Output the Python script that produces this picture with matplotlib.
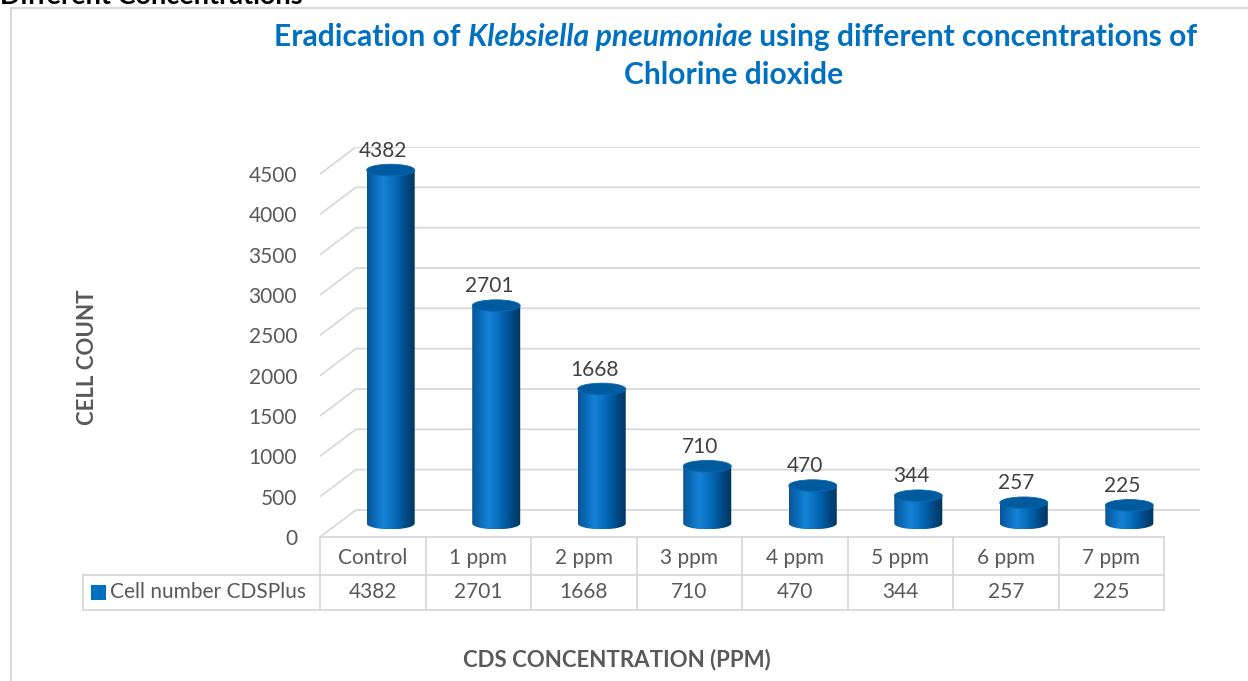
import numpy as np
import matplotlib
matplotlib.use("Agg")
import matplotlib.pyplot as plt
from matplotlib.patches import Ellipse, PathPatch, Rectangle
from matplotlib.path import Path
from matplotlib.colors import LinearSegmentedColormap
from matplotlib.transforms import blended_transform_factory

plt.rcParams['font.family'] = ['Lato', 'DejaVu Sans']

categories = ['Control', '1 ppm', '2 ppm', '3 ppm', '4 ppm', '5 ppm', '6 ppm', '7 ppm']
cell_counts = [4382, 2701, 1668, 710, 470, 344, 257, 225]
series_name = 'Cell number CDSPlus'
y_ticks = list(range(0, 4501, 500))

W, H = 1248, 681
def fx(px):
    return px / W
def fy(py):
    return 1 - py / H

fig = plt.figure(figsize=(W / 100, H / 100), dpi=100)

# depth offset of the fake 3d back wall (category units, value units)
DX = 0.34
DY = 335

ax = fig.add_axes([fx(320), fy(537), (1200 - 320) / W, (537 - 147) / H])
ax.set_xlim(-0.5, len(categories) - 0.5 + DX)
ax.set_ylim(0, y_ticks[-1] + DY)
for s in ax.spines.values():
    s.set_visible(False)
ax.set_xticks([])
ax.set_yticks(y_ticks)
ax.tick_params(axis='y', length=0, pad=16.5, labelsize=15, labelcolor='#595959')
ax.patch.set_alpha(0)

grid_c = '#D9D9D9'
x0 = -0.5
x1 = len(categories) - 0.5
for v in y_ticks:
    ax.plot([x0, x0 + DX, x1 + DX], [v, v + DY, v + DY], color=grid_c, lw=1.3, zorder=1,
            solid_capstyle='butt')

# cylinders
cmap = LinearSegmentedColormap.from_list('cyl', ['#0b5595', '#0a6cb9', '#1582d6', '#0a72c4',
                                                 '#005da6', '#00467f', '#00365f'])
grad = np.linspace(0, 1, 200).reshape(1, -1)
bw = 0.455
ry = 72
base = DY / 2
for i, v in enumerate(cell_counts):
    cx = i + DX / 2
    top = v + base
    t = np.linspace(np.pi, 2 * np.pi, 40)
    verts = [(cx - bw / 2, top), (cx - bw / 2, base)]
    verts += list(zip(cx + bw / 2 * np.cos(t), base + ry * np.sin(t)))
    verts += [(cx + bw / 2, top), (cx - bw / 2, top)]
    path = Path(verts, closed=True)
    clip = PathPatch(path, facecolor='none', edgecolor='none', transform=ax.transData)
    ax.add_patch(clip)
    im = ax.imshow(grad, cmap=cmap, aspect='auto', zorder=3,
                   extent=[cx - bw / 2, cx + bw / 2, base - ry, top])
    im.set_clip_path(clip)
    ax.add_patch(Ellipse((cx, top), bw, 2 * ry, facecolor='#005a9e', edgecolor='#0a6ab5',
                         lw=0.6, zorder=4))
    ax.annotate(str(v), (cx - 0.07, top + ry), xytext=(0, 2.5), textcoords='offset points',
                ha='center', va='bottom', fontsize=15, color='#404040', zorder=5)

ax.set_xlim(-0.5, len(categories) - 0.5 + DX)
ax.set_ylim(0, y_ticks[-1] + DY)

# data table
tr = blended_transform_factory(ax.transData, fig.transFigure)
line_kw = dict(color=grid_c, lw=1.3, clip_on=False)
ax.plot([x0, x1], [fy(537), fy(537)], transform=tr, **line_kw)
for yy in (575, 610):
    fig.add_artist(plt.Line2D([fx(83), ax.transData.transform((x1, 0))[0] / W], [fy(yy), fy(yy)],
                              **line_kw))
fig.add_artist(plt.Line2D([fx(83), fx(83)], [fy(575), fy(610)], **line_kw))
for k in range(len(categories) + 1):
    ax.plot([x0 + k, x0 + k], [fy(537), fy(610)], transform=tr, **line_kw)
for i, (c, v) in enumerate(zip(categories, cell_counts)):
    ax.text(i, fy(558), c, transform=tr, ha='center', va='center', fontsize=15, color='#595959')
    ax.text(i, fy(592), str(v), transform=tr, ha='center', va='center', fontsize=15,
            color='#595959')
fig.add_artist(Rectangle((fx(91), fy(600)), 15 / W, 15 / H, transform=fig.transFigure,
                         facecolor='#0070C0', edgecolor='none'))
fig.text(fx(110), fy(592), series_name, ha='left', va='center', fontsize=15, color='#595959')

# axis titles
fig.text(fx(87), fy(357), 'CELL COUNT', rotation=90, ha='center', va='center', fontsize=16,
         fontweight='bold', color='#595959')
fig.text(fx(617), fy(660), 'CDS CONCENTRATION (PPM)', ha='center', va='center', fontsize=16,
         fontweight='bold', color='#595959')

# chart title with italic species name, centred manually
title_c = '#0070C0'
parts = [('Eradication of ', 'normal'), ('Klebsiella pneumoniae', 'italic'),
         (' using different concentrations of', 'normal')]
renderer = fig.canvas.get_renderer()
texts = []
for s, style in parts:
    t = fig.text(0, fy(37), s, ha='left', va='center', fontsize=21.6, fontweight='bold',
                 fontstyle=style, color=title_c)
    texts.append(t)
widths = [t.get_window_extent(renderer).width for t in texts]
xstart = 736 - sum(widths) / 2
for t, wd in zip(texts, widths):
    t.set_x(fx(xstart))
    xstart += wd
fig.text(fx(734), fy(75), 'Chlorine dioxide', ha='center', va='center', fontsize=21.6,
         fontweight='bold', color=title_c)

# chart frame and clipped heading of the page above
fig.add_artist(Rectangle((fx(11), -0.1), 1.2, fy(8) + 0.1, transform=fig.transFigure,
                         facecolor='none', edgecolor='#D9D9D9', lw=1.5))
fig.text(fx(0), fy(4), 'Different Concentrations', ha='left', va='baseline', fontsize=19.5,
         fontweight='bold', color='black')

fig.savefig('out.png', dpi=100)
